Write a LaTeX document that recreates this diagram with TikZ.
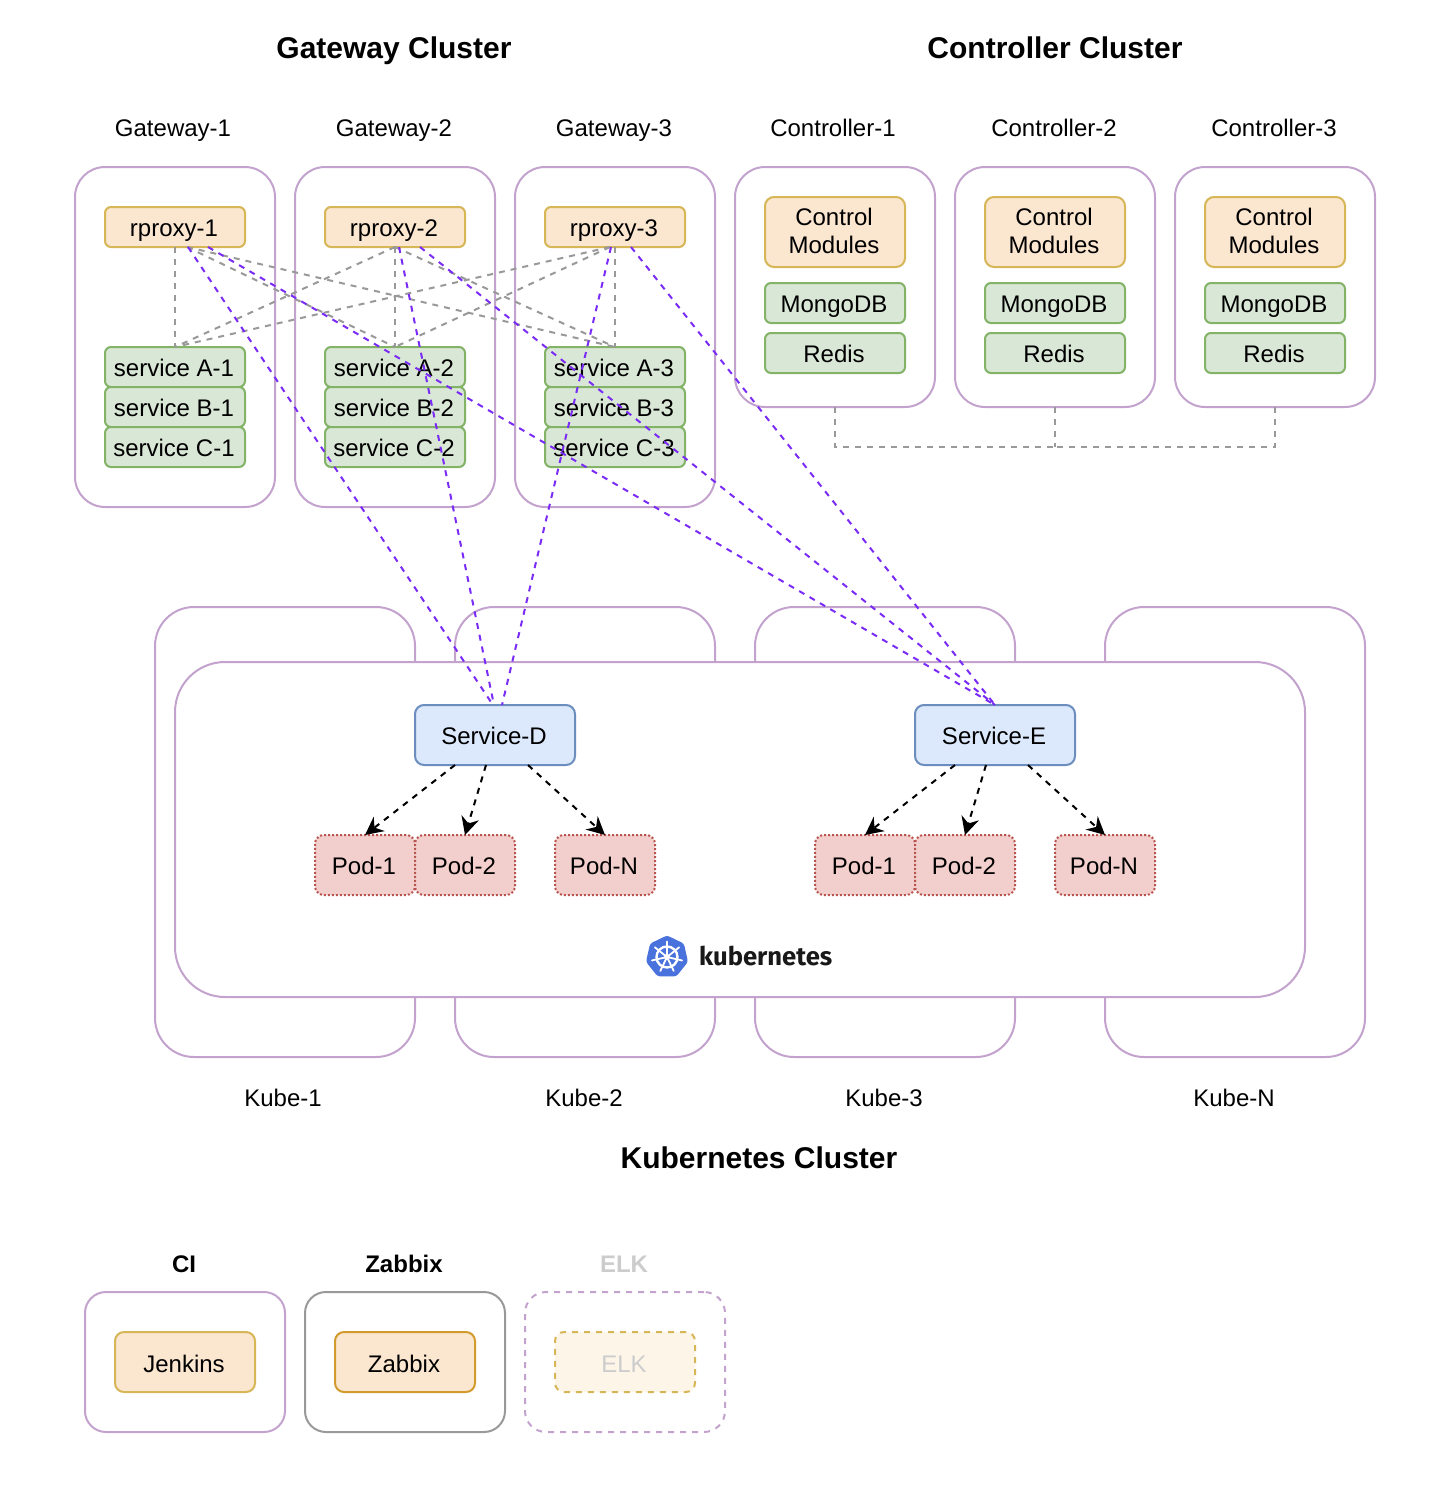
\documentclass[tikz,border=0pt]{standalone}
\usepackage{fontspec}
\setmainfont{Liberation Sans}
\newfontfamily\logofont{Fira Sans}
\usetikzlibrary{arrows.meta,shapes.geometric}
\definecolor{frame}{HTML}{C3A3CE}
\definecolor{ofill}{HTML}{FBE6D0}
\definecolor{ostroke}{HTML}{D6B656}
\definecolor{zstroke}{HTML}{D29B2E}
\definecolor{efill}{HTML}{FEF5E9}
\definecolor{gfill}{HTML}{D9E7D6}
\definecolor{gstroke}{HTML}{82B366}
\definecolor{bfill}{HTML}{DCE8FB}
\definecolor{bstroke}{HTML}{6C8EBF}
\definecolor{rfill}{HTML}{F2CFCC}
\definecolor{rstroke}{HTML}{B85450}
\definecolor{violetline}{HTML}{7A2BF5}
\definecolor{greyline}{HTML}{999999}
\definecolor{fadetext}{HTML}{CCCCCC}
\definecolor{kblue}{HTML}{4A72DC}
\tikzset{
  base/.style={draw,line width=2pt,inner sep=0pt,outer sep=0pt,
    font=\fontsize{24}{28.5}\selectfont,text height=19.2pt,text depth=0pt,
    execute at end node={\kern2pt}},
  cluster/.style={base,draw=frame,fill=white,minimum width=200pt,rounded corners=30pt},
  kube/.style={base,draw=frame,fill=white,minimum width=260pt,minimum height=450pt,rounded corners=39pt},
  orange/.style={base,draw=ostroke,fill=ofill,minimum width=140pt,rounded corners=6pt},
  green/.style={base,draw=gstroke,fill=gfill,minimum width=140pt,minimum height=40pt,rounded corners=6pt},
  svc/.style={base,draw=bstroke,fill=bfill,minimum width=160pt,minimum height=60pt,rounded corners=9pt},
  pod/.style={base,draw=rstroke,fill=rfill,minimum width=100pt,minimum height=60pt,rounded corners=9pt,dash pattern=on 2pt off 2pt},
  small/.style={base,minimum width=200pt,minimum height=140pt,rounded corners=21pt,fill=white},
  inner/.style={base,minimum width=140pt,minimum height=60pt,rounded corners=9pt,text height=21.2pt},
  modules/.style={draw=ostroke,fill=ofill,line width=2pt,inner sep=0pt,outer sep=0pt,
    font=\fontsize{24}{28.5}\selectfont,minimum width=140pt,minimum height=70pt,rounded corners=9pt},
  label/.style={inner sep=0pt,font=\fontsize{24}{28}\selectfont,text height=17.2pt,text depth=0pt},
  title/.style={inner sep=0pt,font=\fontsize{30}{34}\selectfont\bfseries,text height=21.5pt,text depth=0pt},
  subtitle/.style={inner sep=0pt,font=\fontsize{24}{28}\selectfont\bfseries,text height=17.2pt,text depth=0pt},
  greylink/.style={draw=greyline,line width=2pt,dash pattern=on 6pt off 6pt},
  violetlink/.style={draw=violetline,line width=2pt,dash pattern=on 6pt off 6pt},
  podlink/.style={draw=black,line width=2pt,dash pattern=on 6pt off 6pt,
    -{Stealth[length=18pt,width=18pt,inset=6pt]}},
}
\begin{document}
\begin{tikzpicture}[x=1pt,y=-1pt]
\useasboundingbox (0,0) rectangle (1454,1486);
% titles
\node[title] (tg) at (394,48) {Gateway Cluster};
\node[title] (tc) at (1055,48) {Controller Cluster};
\node[title] (tk) at (759,1158) {Kubernetes Cluster};
% host labels
\foreach \n/\x/\t in {lg1/173/Gateway-1,lg2/394/Gateway-2,lg3/614/Gateway-3,lc1/833/Controller-1,lc2/1054/Controller-2,lc3/1274/Controller-3}
  \node[label] (\n) at (\x,128) {\t};
% gateway hosts
\foreach \n/\x in {g1/175,g2/395,g3/615}
  \node[cluster,minimum height=340pt] (\n) at (\x,337) {};
\foreach \n/\x in {c1/835,c2/1055,c3/1275}
  \node[cluster,minimum height=240pt] (\n) at (\x,287) {};
% rproxies and services
\node[orange,minimum height=40pt] (rp1) at (175,227) {rproxy-1};
\node[orange,minimum height=40pt] (rp2) at (395,227) {rproxy-2};
\node[orange,minimum height=40pt] (rp3) at (615,227) {rproxy-3};
\foreach \i/\x in {1/175,2/395,3/615}{
  \node[green] (sa\i) at (\x,367) {service A-\i};
  \node[green] (sb\i) at (\x,407) {service B-\i};
  \node[green] (sc\i) at (\x,447) {service C-\i};
}
% controllers
\foreach \i/\x in {1/835,2/1055,3/1275}{
  \node[modules] (cm\i) at (\x,232) {\raisebox{-8pt}[0pt][0pt]{\begin{tabular}{@{}c@{}}Control\\Modules\end{tabular}}\kern2pt};
  \node[green] (mg\i) at (\x,303) {MongoDB};
  \node[green] (rd\i) at (\x,353) {Redis};
}
% controller links
\coordinate (cbus) at (1055,447);
\draw[greylink] (c1.south) |- (cbus);
\draw[greylink] (c3.south) |- (cbus);
\draw[greylink] (c2.south) -- (cbus);
% kubernetes
\foreach \n/\x in {k1/285,k2/585,k3/885,kn/1235}
  \node[kube] (\n) at (\x,832) {};
\node[base,draw=frame,fill=white,minimum width=1130pt,minimum height=335pt,rounded corners=50pt] (kmain) at (740,829.5) {};
\node[svc] (sd) at (495,735) {Service-D};
\node[svc] (se) at (995,735) {Service-E};
\node[pod] (pd1) at (365,865) {Pod-1};
\node[pod] (pd2) at (465,865) {Pod-2};
\node[pod] (pdn) at (605,865) {Pod-N};
\node[pod] (pe1) at (865,865) {Pod-1};
\node[pod] (pe2) at (965,865) {Pod-2};
\node[pod] (pen) at (1105,865) {Pod-N};
\node[label] (lk1) at (283,1098) {Kube-1};
\node[label] (lk2) at (584,1098) {Kube-2};
\node[label] (lk3) at (884,1098) {Kube-3};
\node[label] (lkn) at (1234,1098) {Kube-N};
% logo
\node[regular polygon,regular polygon sides=7,fill=kblue,draw=kblue,line width=1pt,
  minimum size=42pt,inner sep=0pt,rounded corners=2.5pt] (logo) at (667,957) {};
\begin{scope}[shift={(logo.center)}]
  \draw[white,line width=2.4pt] (0,0) circle (10.5pt);
  \fill[white] (0,0) circle (3pt);
  \foreach \a in {90,141.4,192.9,244.3,295.7,347.1,398.6}
    \draw[white,line width=1.8pt,line cap=round] (0,0) -- (\a:-15.5);
\end{scope}
\node[inner sep=0pt,anchor=west,font=\fontsize{25.6}{30}\logofont\bfseries,text=black!90] (logotext) at (699,956) {kubernetes};
% grey links
\coordinate (g1s) at ([xshift=12pt]rp1.south);
\coordinate (g3s) at ([xshift=-5pt]rp3.south);
\draw[greylink] (rp1.south) -- (sa1.north);
\draw[greylink] (rp2.south) -- (sa2.north);
\draw[greylink] (rp3.south) -- (sa3.north);
\draw[greylink] (g1s) -- (sa2.north);
\draw[greylink] (g1s) -- (sa3.north);
\draw[greylink] (rp2.south) -- (sa1.north);
\draw[greylink] (rp2.south) -- (sa3.north);
\draw[greylink] (g3s) -- (sa1.north);
\draw[greylink] (g3s) -- (sa2.north);
% violet links
\draw[violetlink] ([xshift=13pt]rp1.south) -- ([xshift=-2pt]sd.north);
\draw[violetlink] ([xshift=4pt]rp2.south) -- ([xshift=-1pt]sd.north);
\draw[violetlink] ([xshift=-4pt]rp3.south) -- ([xshift=7pt]sd.north);
\draw[violetlink] ([xshift=33pt]rp1.south) -- (se.north);
\draw[violetlink] ([xshift=25pt]rp2.south) -- (se.north);
\draw[violetlink] ([xshift=16pt]rp3.south) -- (se.north);
% pod links
\draw[podlink] ([xshift=-40pt]sd.south) -- (pd1.north);
\draw[podlink] ([xshift=-9pt]sd.south) -- (pd2.north);
\draw[podlink] ([xshift=33pt]sd.south) -- (pdn.north);
\draw[podlink] ([xshift=-40pt]se.south) -- (pe1.north);
\draw[podlink] ([xshift=-9pt]se.south) -- (pe2.north);
\draw[podlink] ([xshift=33pt]se.south) -- (pen.north);
% bottom row
\node[subtitle] (lci) at (184,1264) {CI};
\node[subtitle] (lzb) at (404,1264) {Zabbix};
\node[subtitle,text=fadetext] (lel) at (624,1264) {ELK};
\node[small,draw=frame] (bci) at (185,1362) {};
\node[small,draw=greyline] (bzb) at (405,1362) {};
\node[small,draw=frame,dash pattern=on 6pt off 6pt] (bel) at (625,1362) {};
\node[inner,draw=ostroke,fill=ofill] (jen) at (185,1362) {Jenkins};
\node[inner,draw=zstroke,fill=ofill] (zab) at (405,1362) {Zabbix};
\node[inner,draw=ostroke,fill=efill,dash pattern=on 6pt off 6pt,text=fadetext] (elk) at (625,1362) {ELK};
\end{tikzpicture}
\end{document}
